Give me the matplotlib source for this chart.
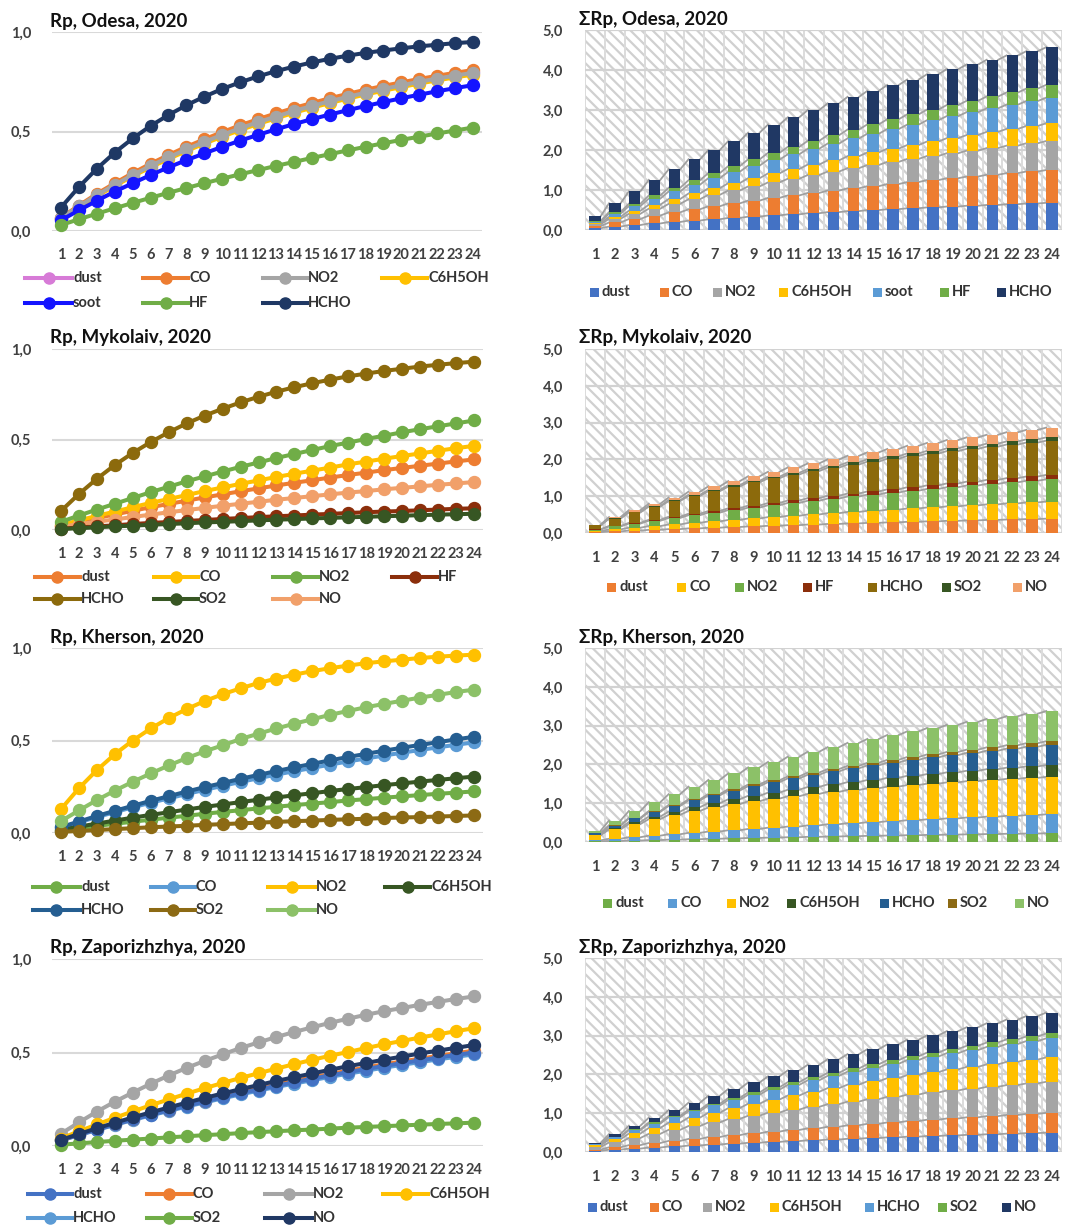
import numpy as np
import matplotlib
matplotlib.use("Agg")
import matplotlib.pyplot as plt
from matplotlib.lines import Line2D
from matplotlib.patches import Rectangle

plt.rcParams['font.family'] = ['Lato', 'DejaVu Sans']
plt.rcParams['hatch.linewidth'] = 1.6

hours = list(range(1, 25))
hour_labels = [str(h) for h in hours]

# ---------------- Odesa (line chart) ----------------
odesa_names = ["dust", "CO", "NO2", "C6H5OH", "soot", "HF", "HCHO"]
odesa_dust = [.065,.125,.182,.235,.285,.332,.375,.416,.454,.489,.523,.554,.583,.610,.635,.659,.681,.702,.721,.739,.756,.772,.787,.800]
odesa_co = [.067,.128,.187,.240,.291,.338,.382,.423,.461,.497,.531,.562,.591,.618,.643,.667,.689,.710,.729,.747,.764,.780,.795,.809]
odesa_no2 = [.064,.124,.180,.232,.281,.327,.370,.410,.448,.483,.516,.547,.575,.603,.628,.652,.674,.695,.714,.732,.750,.766,.781,.795]
odesa_c6h5oh = [.061,.120,.175,.226,.275,.320,.362,.402,.439,.474,.507,.538,.566,.594,.619,.643,.665,.686,.705,.723,.741,.757,.772,.786]
odesa_soot = [.054,.104,.152,.198,.240,.281,.320,.356,.390,.423,.454,.483,.511,.537,.562,.585,.607,.628,.648,.667,.685,.702,.718,.733]
odesa_hf = [.030,.059,.087,.114,.141,.167,.192,.216,.240,.263,.285,.306,.327,.347,.367,.386,.405,.423,.441,.458,.474,.490,.505,.520]
odesa_hcho = [.118,.221,.313,.394,.465,.528,.583,.632,.675,.714,.747,.777,.803,.826,.847,.865,.881,.895,.907,.918,.928,.936,.944,.950]

# ---------------- Odesa (stacked bar chart) ----------------
odesa_bar_dust = [.044,.085,.124,.163,.200,.235,.269,.302,.333,.364,.392,.420,.447,.473,.497,.521,.543,.566,.587,.607,.626,.645,.663,.680]
odesa_bar_co = [.052,.103,.150,.197,.241,.284,.325,.364,.402,.439,.473,.507,.539,.570,.599,.628,.655,.682,.708,.731,.755,.777,.800,.820]
odesa_bar_no2 = [.046,.091,.133,.174,.213,.251,.287,.322,.355,.388,.418,.448,.476,.504,.530,.555,.579,.603,.626,.647,.668,.687,.707,.725]
odesa_bar_c6h5oh = [.026,.050,.075,.098,.121,.143,.164,.185,.206,.225,.244,.262,.280,.298,.314,.331,.347,.362,.377,.391,.405,.419,.432,.445]
odesa_bar_soot = [.041,.080,.117,.154,.188,.221,.253,.284,.314,.342,.369,.396,.420,.445,.468,.490,.511,.532,.552,.571,.589,.607,.624,.640]
odesa_bar_hf = [.020,.040,.059,.077,.094,.111,.127,.142,.157,.171,.185,.198,.210,.222,.234,.245,.256,.266,.276,.285,.295,.303,.312,.320]
odesa_bar_hcho = [.117,.219,.309,.390,.460,.523,.577,.625,.668,.707,.739,.769,.794,.817,.838,.856,.871,.885,.898,.908,.918,.926,.934,.940]

# ---------------- Mykolaiv ----------------
myk_names = ["dust", "CO", "NO2", "HF", "HCHO", "SO2", "NO"]
myk_dust = [.023,.044,.066,.086,.106,.126,.144,.162,.180,.197,.214,.230,.246,.261,.275,.290,.304,.317,.331,.343,.355,.367,.379,.390]
myk_co = [.027,.053,.078,.102,.126,.150,.171,.193,.215,.235,.255,.274,.293,.311,.328,.345,.363,.378,.394,.409,.423,.438,.452,.465]
myk_no2 = [.045,.080,.113,.145,.177,.209,.239,.269,.296,.323,.349,.373,.398,.420,.442,.464,.483,.503,.521,.540,.557,.573,.589,.605]
myk_hf = [.007,.014,.020,.026,.033,.039,.044,.050,.055,.061,.066,.071,.076,.080,.085,.089,.094,.098,.102,.105,.109,.113,.117,.120]
myk_hcho = [.105,.199,.283,.359,.426,.486,.540,.589,.632,.670,.705,.736,.764,.789,.811,.831,.849,.864,.879,.891,.903,.913,.922,.930]
myk_so2 = [.005,.010,.015,.020,.024,.029,.033,.037,.042,.045,.049,.053,.057,.060,.064,.067,.070,.073,.076,.079,.082,.085,.087,.090]
myk_no = [.018,.032,.046,.058,.072,.085,.098,.110,.122,.134,.145,.156,.167,.177,.187,.197,.207,.215,.225,.233,.241,.250,.257,.265]

# ---------------- Kherson ----------------
khe_names = ["dust", "CO", "NO2", "C6H5OH", "HCHO", "SO2", "NO"]
khe_dust = [.013,.025,.038,.050,.061,.072,.083,.093,.104,.114,.123,.133,.142,.151,.159,.167,.176,.183,.191,.198,.205,.212,.218,.225]
khe_co = [.030,.058,.086,.113,.139,.164,.187,.211,.233,.255,.276,.296,.316,.334,.352,.370,.387,.403,.419,.434,.449,.463,.477,.490]
khe_no2 = [.129,.242,.340,.426,.500,.565,.621,.670,.713,.750,.782,.811,.835,.856,.875,.891,.905,.918,.928,.937,.946,.953,.959,.964]
khe_c6h5oh = [.018,.034,.051,.067,.083,.098,.112,.127,.141,.154,.167,.180,.192,.204,.215,.227,.238,.248,.259,.268,.278,.287,.296,.305]
khe_hcho = [.032,.062,.092,.120,.147,.174,.199,.224,.248,.270,.293,.314,.335,.355,.374,.393,.411,.428,.445,.461,.476,.491,.506,.520]
khe_so2 = [.006,.011,.016,.021,.026,.031,.035,.039,.044,.048,.052,.056,.060,.064,.067,.071,.074,.077,.081,.084,.086,.089,.092,.095]
khe_no = [.064,.122,.178,.229,.277,.322,.365,.405,.441,.474,.508,.537,.565,.591,.615,.639,.660,.680,.698,.715,.732,.747,.762,.775]

# ---------------- Zaporizhzhya ----------------
zap_names = ["dust", "CO", "NO2", "C6H5OH", "HCHO", "SO2", "NO"]
zap_dust = [.031,.060,.088,.115,.142,.167,.191,.215,.238,.260,.282,.302,.322,.341,.360,.378,.395,.412,.428,.443,.458,.473,.487,.500]
zap_co = [.031,.061,.090,.117,.144,.170,.195,.219,.243,.265,.287,.308,.328,.348,.367,.385,.403,.420,.437,.452,.467,.482,.496,.510]
zap_no2 = [.066,.126,.184,.237,.286,.333,.377,.418,.455,.490,.524,.554,.583,.610,.635,.659,.681,.702,.721,.738,.755,.771,.786,.800]
zap_c6h5oh = [.040,.079,.115,.151,.185,.218,.249,.280,.309,.337,.364,.389,.414,.438,.461,.483,.503,.524,.544,.562,.580,.597,.614,.630]
zap_hcho = [.030,.058,.086,.113,.139,.164,.187,.211,.233,.255,.276,.296,.316,.334,.352,.370,.387,.403,.419,.434,.449,.463,.477,.490]
zap_so2 = [.007,.014,.021,.028,.034,.040,.046,.052,.058,.063,.069,.074,.079,.084,.088,.093,.098,.102,.106,.110,.114,.118,.121,.125]
zap_no = [.033,.064,.095,.124,.153,.180,.206,.232,.257,.281,.304,.326,.348,.368,.388,.408,.427,.444,.462,.478,.495,.510,.525,.540]

# ---------------- styles ----------------
odesa_line_colors = ["#D77BD7", "#ED7D31", "#A5A5A5", "#FFC000", "#1414FF", "#70AD47", "#1F3864"]
odesa_line_z = [2, 3, 4, 3.5, 5, 6, 7]
odesa_bar_colors = ["#4472C4", "#ED7D31", "#A5A5A5", "#FFC000", "#5B9BD5", "#70AD47", "#203864"]
myk_colors = ["#ED7D31", "#FFC000", "#70AD47", "#8B2E0B", "#8C6A0C", "#375623", "#F1A06A"]
khe_colors = ["#70AD47", "#5B9BD5", "#FFC000", "#375623", "#255E91", "#8C6A14", "#8CC168"]
zap_colors = ["#4472C4", "#ED7D31", "#A5A5A5", "#FFC000", "#5B9BD5", "#70AD47", "#203864"]

W, H = 1072, 1225
fig = plt.figure(figsize=(W / 100, H / 100), dpi=100)
fig.patch.set_facecolor("white")

TICK_COLOR = "#404040"
BW = 0.58
LW = 2.9
MS = 8.6


def add_ax(left, top, right, bottom):
    return fig.add_axes([left / W, 1 - bottom / H, (right - left) / W, (bottom - top) / H])


def style_ticks(ax, xpad, ypad):
    for s in ax.spines.values():
        s.set_visible(False)
    ax.tick_params(axis="both", which="both", length=0, labelsize=10.5, labelcolor=TICK_COLOR)
    ax.tick_params(axis="x", pad=xpad)
    ax.tick_params(axis="y", pad=ypad)
    for lab in ax.get_xticklabels() + ax.get_yticklabels():
        lab.set_fontweight("bold")


def line_panel(box, series, colors, zorders, title):
    ax = add_ax(*box)
    for vals, c, z in zip(series, colors, zorders):
        ax.plot(hours, vals, color=c, lw=LW, marker="o", ms=MS, mfc=c, mec=c,
                zorder=z, clip_on=False)
    ax.set_xlim(0.5, 24.5)
    ax.set_ylim(0, 1.0)
    ax.set_yticks([0, 0.5, 1.0], ["0,0", "0,5", "1,0"])
    ax.set_xticks(hours, hour_labels)
    ax.yaxis.grid(True, color="#d9d9d9", lw=1.5)
    ax.set_axisbelow(True)
    style_ticks(ax, 12, 15)
    fig.text(50 / W, 1 - (box[1] - 11) / H, title, fontsize=13.5, fontweight="bold",
             va="center", ha="left", color="#111111")
    return ax


def bar_panel(box, series, colors, title):
    ax = add_ax(*box)
    ax.patch.set_facecolor("white")
    ax.add_patch(Rectangle((0, 0), 1, 1, transform=ax.transAxes, facecolor="white",
                           edgecolor="#d0d0d0", hatch="\\\\\\", lw=0, zorder=0))
    bottom = np.zeros(len(hours))
    tops = []
    for vals, c in zip(series, colors):
        v = np.array(vals)
        ax.bar(hours, v, width=BW, bottom=bottom, color=c, lw=0, zorder=3)
        bottom = bottom + v
        tops.append(bottom.copy())
    for t in tops:
        xs, ys = [], []
        for i in range(len(hours) - 1):
            xs += [hours[i] + BW / 2, hours[i + 1] - BW / 2, np.nan]
            ys += [t[i], t[i + 1], np.nan]
        ax.plot(xs, ys, color="#a0a0a0", lw=1.3, zorder=2.5)
    ax.set_xlim(0.5, 24.5)
    ax.set_ylim(0, 5.0)
    ax.set_yticks([0, 1, 2, 3, 4, 5], ["0,0", "1,0", "2,0", "3,0", "4,0", "5,0"])
    ax.set_xticks(hours, hour_labels)
    ax.set_xticks(np.arange(0.5, 25, 1), minor=True)
    ax.yaxis.grid(True, which="major", color="#d2d2d2", lw=1.6, zorder=1)
    ax.xaxis.grid(True, which="minor", color="#dcdcdc", lw=1.4, zorder=1)
    ax.set_axisbelow(True)
    style_ticks(ax, 13, 16)
    fig.text(579 / W, 1 - (box[1] - 11) / H, "\u03a3Rp, " + title, fontsize=13.5,
             fontweight="bold", va="center", ha="left", color="#111111")
    return ax


def line_legend(names, colors, rows, starts, ends):
    for i, (n, c) in enumerate(zip(names, colors)):
        r, k = divmod(i, 4)
        y = 1 - rows[r] / H
        x0, x1 = starts[k] / W, ends[k] / W
        fig.add_artist(Line2D([x0, x1], [y, y], transform=fig.transFigure, color=c, lw=LW))
        fig.add_artist(Line2D([(x0 + x1) / 2], [y], transform=fig.transFigure, color=c,
                              marker="o", ms=8, lw=0))
        fig.text(x1 + 1 / W, y, n, fontsize=10.5, fontweight="bold", va="center",
                 ha="left", color="#333333")


def bar_legend(names, colors, y_px, xs):
    y = 1 - y_px / H
    for n, c, x in zip(names, colors, xs):
        fig.add_artist(Rectangle((x / W, y - 4.5 / H), 9 / W, 9 / H,
                                 transform=fig.transFigure, facecolor=c, lw=0))
        fig.text((x + 12) / W, y, n, fontsize=10.5, fontweight="bold", va="center",
                 ha="left", color="#333333")


# ---- Odesa ----
line_panel((52, 32, 482, 231),
           [odesa_dust, odesa_co, odesa_no2, odesa_c6h5oh, odesa_soot, odesa_hf, odesa_hcho],
           odesa_line_colors, odesa_line_z, "Rp, Odesa, 2020")
line_legend(odesa_names, odesa_line_colors, [278, 303], [25, 143, 263, 382], [72, 188, 307, 427])
bar_panel((585, 30, 1062, 230),
          [odesa_bar_dust, odesa_bar_co, odesa_bar_no2, odesa_bar_c6h5oh, odesa_bar_soot,
           odesa_bar_hf, odesa_bar_hcho],
          odesa_bar_colors, "Odesa, 2020")
bar_legend(odesa_names, odesa_bar_colors, 292, [590, 660, 713, 779, 873, 940, 997])

# ---- Mykolaiv ----
myk_series = [myk_dust, myk_co, myk_no2, myk_hf, myk_hcho, myk_so2, myk_no]
line_panel((52, 349, 483, 530), myk_series, myk_colors, [2, 3, 4, 5, 6, 7, 3.5],
           "Rp, Mykolaiv, 2020")
line_legend(myk_names, myk_colors, [577, 599], [35, 154, 273, 392], [80, 198, 318, 437])
bar_panel((585, 349, 1062, 533), myk_series, myk_colors, "Mykolaiv, 2020")
bar_legend(myk_names, myk_colors, 587, [607, 677, 735, 803, 868, 942, 1013])

# ---- Kherson ----
khe_series = [khe_dust, khe_co, khe_no2, khe_c6h5oh, khe_hcho, khe_so2, khe_no]
line_panel((52, 648, 483, 833), khe_series, khe_colors, [2, 3, 4, 5, 6, 7, 8],
           "Rp, Kherson, 2020")
line_legend(khe_names, khe_colors, [887, 910], [33, 151, 268, 385], [80, 195, 315, 430])
bar_panel((585, 648, 1062, 842), khe_series, khe_colors, "Kherson, 2020")
bar_legend(khe_names, khe_colors, 903, [603, 668, 727, 787, 880, 948, 1015])

# ---- Zaporizhzhya ----
zap_series = [zap_dust, zap_co, zap_no2, zap_c6h5oh, zap_hcho, zap_so2, zap_no]
line_panel((52, 959, 483, 1146), zap_series, zap_colors, [3, 2.5, 4, 5, 2, 7, 8],
           "Rp, Zaporizhzhya, 2020")
line_legend(zap_names, zap_colors, [1194, 1218], [28, 147, 265, 383], [72, 192, 312, 428])
bar_panel((585, 958, 1062, 1152), zap_series, zap_colors, "Zaporizhzhya, 2020")
bar_legend(zap_names, zap_colors, 1207, [588, 650, 703, 770, 865, 938, 1002])

fig.savefig("out.png", dpi=100, facecolor="white")
